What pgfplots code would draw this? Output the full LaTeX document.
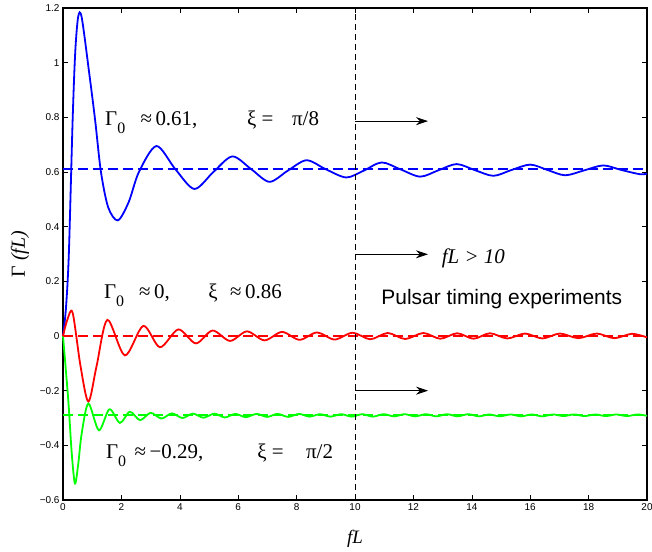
\documentclass[border=0pt]{standalone}
\usepackage{fontspec}
\setmainfont{Liberation Serif}
\setsansfont{Liberation Sans}
\usepackage{pgfplots}
\pgfplotsset{compat=1.18}
\usetikzlibrary{arrows.meta}

\definecolor{mblue}{RGB}{0,0,255}
\definecolor{mred}{RGB}{255,0,0}
\definecolor{mgreen}{RGB}{0,255,0}

\newcommand{\Gz}{Γ\raisebox{-8bp}{\fontsize{16}{16}\selectfont 0}}
\newcommand{\annfont}{\fontsize{21}{24}\selectfont}

\begin{document}
\begin{tikzpicture}
\begin{axis}[
    scale only axis,
    width=584bp, height=492bp,
    xmin=0, xmax=20, ymin=-0.6, ymax=1.2,
    xtick={0,2,4,6,8,10,12,14,16,18,20},
    ytick={-0.6,-0.4,-0.2,0,0.2,0.4,0.6,0.8,1,1.2},
    yticklabels={−0.6,−0.4,−0.2,0,0.2,0.4,0.6,0.8,1,1.2},
    /pgf/number format/assume math mode=true,
    tick align=inside,
    major tick length=5bp,
    tick style={line width=0.6bp, black},
    axis line style={line width=1.3bp},
    ticklabel style={font=\sffamily\fontsize{10}{12}\selectfont},
    xlabel={\itshape fL},
    xlabel style={font=\fontsize{19}{22}\selectfont, at={(rel axis cs:0.5,0)}, anchor=base, yshift=-43bp},
    ylabel={Γ {\itshape(fL)}},
    ylabel style={font=\fontsize{20}{22}\selectfont, at={(rel axis cs:0,0.5)}, anchor=base, yshift=38bp},
    clip=false,
]
% curves
\addplot[mblue, line width=1.8bp, smooth] coordinates {
    (0,0) (0.1,0.1) (0.2,0.3) (0.33,0.79) (0.42,1.04) (0.52,1.168) (0.64,1.166)
    (0.9,0.96) (1.1,0.79) (1.3,0.6) (1.55,0.47) (1.88,0.423) (2.25,0.49) (2.6,0.6)
    (3.2,0.695) (3.85,0.61) (4.5,0.538) (5.15,0.6) (5.8,0.657) (6.45,0.61)
    (7.07,0.564) (7.7,0.605) (8.34,0.643) (9.0,0.61) (9.7,0.58) (10.3,0.605)
    (10.91,0.635) (11.55,0.61) (12.23,0.583) (12.85,0.606) (13.48,0.629)
    (14.1,0.607) (14.74,0.586) (15.35,0.607) (16.0,0.627) (16.6,0.607)
    (17.2,0.588) (17.85,0.606) (18.5,0.624) (19.1,0.608) (19.75,0.592) (20,0.594)};
\addplot[mred, line width=1.8bp, smooth] coordinates {
    (0,0) (0.15,0.06) (0.33,0.085) (0.6,-0.11) (0.87,-0.24) (1.15,-0.11)
    (1.52,0.059) (2.12,-0.071) (2.75,0.037) (3.32,-0.041) (3.95,0.024)
    (4.55,-0.027) (5.12,0.02) (5.72,-0.018) (6.3,0.017) (6.9,-0.016) (7.5,0.015)
    (8.1,-0.014) (8.7,0.013) (9.3,-0.013) (9.92,0.012) (10.52,-0.012)
    (11.12,0.011) (11.72,-0.011) (12.34,0.011) (12.92,-0.010) (13.5,0.010)
    (14.06,-0.010) (14.62,0.010) (15.22,-0.009) (15.82,0.009) (16.42,-0.009)
    (17.02,0.009) (17.65,-0.008) (18.28,0.009) (18.88,-0.008) (19.48,0.008)
    (20,-0.005)};
\addplot[mgreen, line width=1.8bp, smooth] coordinates {
    (0,0) (0.18,-0.234) (0.3,-0.43) (0.41,-0.54) (0.52,-0.47) (0.64,-0.357)
    (0.87,-0.247) (1.23,-0.345) (1.59,-0.268) (1.95,-0.318) (2.29,-0.277)
    (2.64,-0.308) (3.0,-0.281) (3.37,-0.302) (3.73,-0.283) (4.09,-0.300)
    (4.45,-0.284) (4.81,-0.299) (5.18,-0.284) (5.54,-0.298) (5.90,-0.285)
    (6.26,-0.297) (6.63,-0.285) (6.99,-0.296) (7.35,-0.285) (7.71,-0.296)
    (8.08,-0.285) (8.44,-0.295) (8.80,-0.286) (9.16,-0.295) (9.53,-0.286)
    (9.89,-0.295) (10.25,-0.286) (10.61,-0.295) (10.98,-0.286) (11.34,-0.294)
    (11.70,-0.286) (12.06,-0.294) (12.43,-0.286) (12.79,-0.294) (13.15,-0.286)
    (13.51,-0.294) (13.88,-0.286) (14.24,-0.294) (14.60,-0.287) (14.96,-0.294)
    (15.33,-0.287) (15.69,-0.294) (16.05,-0.287) (16.41,-0.294) (16.78,-0.287)
    (17.14,-0.293) (17.50,-0.287) (17.86,-0.293) (18.23,-0.287) (18.59,-0.293)
    (18.95,-0.287) (19.31,-0.293) (19.68,-0.287) (20,-0.292)};
% asymptotic values
\addplot[mblue, line width=1.8bp, dash pattern=on 10bp off 5bp] coordinates {(0,0.61) (20,0.61)};
\addplot[mred, line width=1.8bp, dash pattern=on 10bp off 5bp] coordinates {(0,0) (20,0)};
\addplot[mgreen, line width=1.8bp, dash pattern=on 10bp off 5bp] coordinates {(0,-0.29) (20,-0.29)};
\addplot[black, line width=0.8bp, dash pattern=on 6bp off 4bp] coordinates {(10,-0.6) (10,1.2)};

% annotations
\begin{scope}[every node/.style={inner sep=0pt, anchor=base west, font=\annfont}]
\node at (axis cs:1.44,0.771) {\Gz};
\node at (axis cs:2.65,0.771) {≈\,0.61,};
\node at (axis cs:6.30,0.771) {ξ =};
\node at (axis cs:7.84,0.771) {π/8};
\node at (axis cs:1.40,0.138) {\Gz};
\node at (axis cs:2.60,0.138) {≈\,0,};
\node at (axis cs:4.97,0.138) {ξ};
\node at (axis cs:5.72,0.138) {≈\,0.86};
\node at (axis cs:1.47,-0.448) {\Gz};
\node at (axis cs:2.45,-0.448) {≈\,−0.29,};
\node at (axis cs:6.65,-0.448) {ξ =};
\node at (axis cs:8.32,-0.448) {π/2};
\node[font=\annfont\itshape] at (axis cs:12.97,0.267) {fL > 10};
\node[font=\sffamily\fontsize{21}{24}\selectfont] at (axis cs:10.9,0.117) {Pulsar timing experiments};
\end{scope}
\draw[-{Stealth[length=12bp,width=8bp]}, line width=0.8bp] (axis cs:10,0.786) -- (axis cs:12.5,0.786);
\draw[-{Stealth[length=12bp,width=8bp]}, line width=0.8bp] (axis cs:10,0.299) -- (axis cs:12.5,0.299);
\draw[-{Stealth[length=12bp,width=8bp]}, line width=0.8bp] (axis cs:10,-0.2) -- (axis cs:12.5,-0.2);
\end{axis}
\pgfresetboundingbox
\path ([shift={(-63bp,-52bp)}]current axis.south west) rectangle ([shift={(5bp,8bp)}]current axis.north east);
\end{tikzpicture}
\end{document}
